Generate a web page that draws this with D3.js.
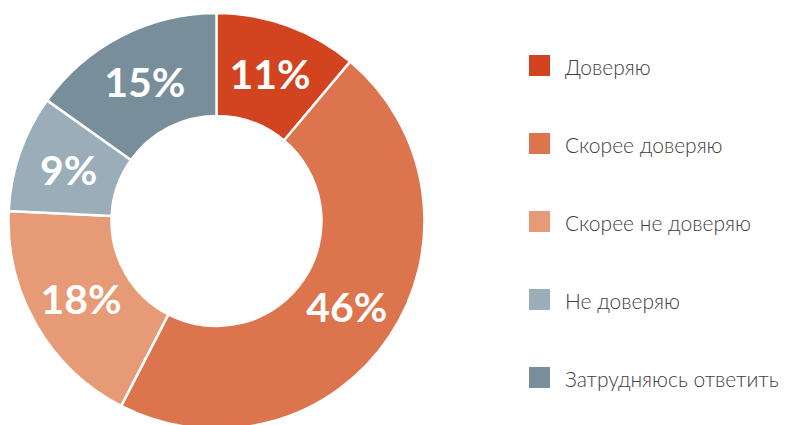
<!DOCTYPE html>
<html>
<head>
<meta charset="utf-8">
<script src="https://cdn.jsdelivr.net/npm/d3@7"></script>
<style>
  body { margin: 0; background: #fff; }
  svg { display: block; }
</style>
</head>
<body>
<div id="chart"></div>
<script>
// Data.
var categories = [ 'Доверяю', 'Скорее доверяю', 'Скорее не доверяю', 'Не доверяю', 'Затрудняюсь ответить' ];
var values = [ 11, 46, 18, 9, 15 ];
var colors = [ '#d1441f', '#dc744d', '#e79a76', '#9aadb8', '#788e9a' ];

var width = 787, height = 425;
var cx = 216.5, cy = 221;
var outer_radius = 208, inner_radius = 105;

var svg = d3.select( '#chart' )
  .append( 'svg' )
    .attr( 'width', width )
    .attr( 'height', height );

var color = d3.scaleOrdinal().domain( categories ).range( colors );

var pie = d3.pie().sort( null ).value( function( d ){ return d.value } );
var arc = d3.arc().innerRadius( inner_radius ).outerRadius( outer_radius );

var data = categories.map( function( c, i ){ return { key: c, value: values[i] } } );
var arcs = pie( data );

var g = svg.append( 'g' )
  .attr( 'transform', 'translate(' + cx + ',' + cy + ')' );

g.selectAll( 'path' )
  .data( arcs )
  .enter().append( 'path' )
    .attr( 'd', arc )
    .attr( 'fill', function( d ){ return color( d.data.key ) } )
    .attr( 'stroke', '#fff' )
    .attr( 'stroke-width', 2.5 );

// Percent labels at the slice centroids.
g.selectAll( 'text' )
  .data( arcs )
  .enter().append( 'text' )
    .attr( 'transform', function( d ){ return 'translate(' + arc.centroid( d ) + ')' } )
    .attr( 'text-anchor', 'middle' )
    .attr( 'dy', '0.36em' )
    .attr( 'fill', '#fff' )
    .style( 'font-family', 'Lato, sans-serif' )
    .style( 'font-weight', 'bold' )
    .style( 'font-size', '41px' )
    .text( function( d ){ return d.data.value + '%' } );

// Legend
var legend_x = 529, legend_y = 55, legend_step = 78, key_size = 21;
var legend = svg.selectAll( 'g.legend' )
  .data( categories )
  .enter().append( 'g' )
    .attr( 'class', 'legend' )
    .attr( 'transform', function( d, i ){ return 'translate(' + legend_x + ',' + ( legend_y + i * legend_step ) + ')' } );

legend.append( 'rect' )
  .attr( 'width', key_size )
  .attr( 'height', key_size )
  .attr( 'fill', function( d ){ return color( d ) } );

legend.append( 'text' )
  .attr( 'x', 36 )
  .attr( 'y', key_size - 1 )
  .attr( 'fill', '#404040' )
  .style( 'font-family', 'Lato, sans-serif' )
  .style( 'font-weight', 300 )
  .style( 'font-size', '21px' )
  .text( function( d ){ return d } );
</script>
</body>
</html>
